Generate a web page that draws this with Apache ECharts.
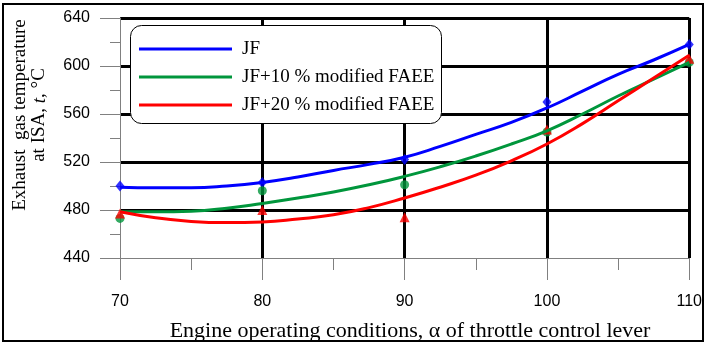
<!DOCTYPE html>
<html>
<head>
<meta charset="utf-8">
<script src="https://cdn.jsdelivr.net/npm/echarts@6/dist/echarts.min.js"></script>
<style>
  html, body { margin: 0; padding: 0; background: #fff; }
  #main { width: 705px; height: 343px; }
</style>
</head>
<body>
<div id="main"></div>
<script>
// throttle lever positions, %
var alpha = [70, 80, 90, 100, 110];
// measured points
var jfPts = [500, 503, 522, 570, 618];
var jf10Pts = [473, 496, 501, 545, 603];
var jf20Pts = [477, 480, 474, 547, 606];

// fitted curves
var curveX = [70, 72.5, 75, 77.5, 80, 82.5, 85, 87.5, 90, 92.5, 95, 97.5, 100, 102.5, 105, 107.5, 110];
var jfCurve = [499, 498.5, 498.5, 500, 503, 507.5, 513, 518, 524, 533, 543, 553, 565, 579, 593, 605, 618];
var jf10Curve = [478.5, 478.5, 479, 481.5, 485.5, 490, 495, 501, 508, 516, 525, 535, 546, 560, 575, 589, 603];
var jf20Curve = [478.5, 473.5, 470.5, 469.5, 470, 472.5, 476, 482, 490, 499, 509, 521, 535, 552, 571, 590, 609];

var names = ['JF', 'JF+10 % modified FAEE', 'JF+20 % modified FAEE'];
var colors = ['#0000ff', '#00963c', '#ff0000'];

function pairs(xs, ys) {
    return xs.map(function (x, i) { return [x, ys[i]]; });
}

var myChart = echarts.init(document.getElementById('main'));

var gray = '#808080';
var option = {
    animation: false,
    grid: { left: 120, right: 13, top: 18, bottom: 85 },
    legend: {
        data: names,
        orient: 'vertical',
        left: 139, top: 39,
        padding: 0,
        icon: 'rect',
        itemWidth: 93, itemHeight: 3,
        itemGap: 8,
        z: 11,
        textStyle: { fontFamily: 'Liberation Serif', fontSize: 19, color: '#000', lineHeight: 20, padding: [0, 0, 0, 5] }
    },
    xAxis: {
        type: 'value', min: 70, max: 110, interval: 10,
        axisLine: { lineStyle: { color: gray, width: 1 } },
        axisTick: { length: 22, lineStyle: { color: gray } },
        minorTick: { show: true, splitNumber: 2, length: 12, lineStyle: { color: gray } },
        axisLabel: { margin: 36, fontFamily: 'Liberation Sans', fontSize: 16, color: '#000' },
        splitLine: { show: true, showMinLine: false, lineStyle: { color: '#000', width: 3 } }
    },
    yAxis: {
        type: 'value', min: 440, max: 640, interval: 40,
        axisLine: { show: true, lineStyle: { color: gray, width: 1 } },
        axisTick: { show: true, length: 20, lineStyle: { color: gray } },
        minorTick: { show: true, splitNumber: 2, length: 10, lineStyle: { color: gray } },
        axisLabel: { margin: 30, fontFamily: 'Liberation Sans', fontSize: 16, color: '#000' },
        splitLine: { show: true, showMinLine: false, lineStyle: { color: '#000', width: 3 } }
    },
    graphic: [
        {
            type: 'rect', z: 10,
            shape: { x: 130.5, y: 25.5, width: 311, height: 98, r: 11 },
            style: { fill: '#fff', stroke: '#000', lineWidth: 1 }
        },
        {
            type: 'text', x: 410, y: 331, z: 10,
            style: {
                text: 'Engine operating conditions, \u03b1 of throttle control lever',
                font: '22px "Liberation Serif"', fill: '#000',
                align: 'center', verticalAlign: 'middle'
            }
        },
        {
            type: 'text', x: 30, y: 115, rotation: Math.PI / 2, z: 10,
            style: {
                text: 'Exhaust  gas temperature\nat ISA, {i|t}, \u00b0C',
                font: '19px "Liberation Serif"', fill: '#000',
                lineHeight: 19,
                align: 'center', verticalAlign: 'middle',
                rich: { i: { fontStyle: 'italic', fontFamily: 'Liberation Serif', fontSize: 19, lineHeight: 19 } }
            }
        },
        {
            type: 'rect', z: 10, silent: true,
            shape: { x: 3, y: 4, width: 700, height: 337 },
            style: { fill: 'none', stroke: '#000', lineWidth: 2 }
        }
    ],
    series: [
        { name: names[0], type: 'line', smooth: true, showSymbol: false, data: pairs(curveX, jfCurve), lineStyle: { color: colors[0], width: 3 }, itemStyle: { color: colors[0] } },
        { name: names[1], type: 'line', smooth: true, showSymbol: false, data: pairs(curveX, jf10Curve), lineStyle: { color: colors[1], width: 3 }, itemStyle: { color: colors[1] } },
        { name: names[2], type: 'line', smooth: true, showSymbol: false, data: pairs(curveX, jf20Curve), lineStyle: { color: colors[2], width: 3 }, itemStyle: { color: colors[2] } },
        // measured markers
        { type: 'scatter', symbol: 'diamond', symbolSize: [9, 11], data: pairs(alpha, jfPts), itemStyle: { color: colors[0] } },
        { type: 'scatter', symbol: 'circle', symbolSize: 9, data: pairs(alpha, jf10Pts), itemStyle: { color: colors[1] } },
        { type: 'scatter', symbol: 'triangle', symbolSize: 10, data: pairs(alpha, jf20Pts), itemStyle: { color: colors[2] } }
    ]
};

myChart.setOption(option);
</script>
</body>
</html>
